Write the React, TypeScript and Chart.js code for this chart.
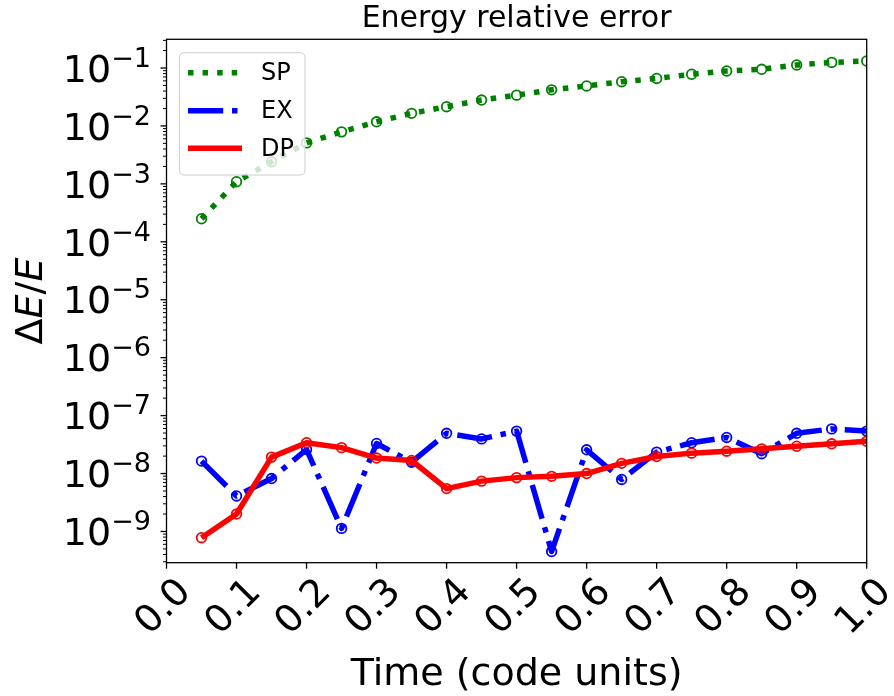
import React, { useEffect, useRef } from "react";
import { Chart, registerables } from "chart.js";

Chart.register(...registerables);

// ---------- data ----------
const times = [0.05, 0.1, 0.15, 0.2, 0.25, 0.3, 0.35, 0.4, 0.45, 0.5, 0.55, 0.6, 0.65, 0.7, 0.75, 0.8, 0.85, 0.9, 0.95, 1.0];
const spValues = [2.5e-4, 1.09e-3, 2.4e-3, 5.1e-3, 7.9e-3, 1.18e-2, 1.65e-2, 2.15e-2, 2.8e-2, 3.4e-2, 4.2e-2, 4.9e-2, 5.8e-2, 6.6e-2, 7.8e-2, 8.9e-2, 9.5e-2, 0.113, 0.125, 0.132];
const exValues = [1.64e-8, 4.1e-9, 8.2e-9, 2.6e-8, 1.13e-9, 3.3e-8, 1.57e-8, 4.95e-8, 3.96e-8, 5.4e-8, 4.5e-10, 2.57e-8, 7.9e-9, 2.34e-8, 3.4e-8, 4.2e-8, 2.2e-8, 4.95e-8, 5.9e-8, 5.4e-8];
const dpValues = [7.8e-10, 2.0e-9, 1.92e-8, 3.4e-8, 2.8e-8, 1.85e-8, 1.68e-8, 5.5e-9, 7.4e-9, 8.5e-9, 8.95e-9, 1.0e-8, 1.5e-8, 1.97e-8, 2.25e-8, 2.43e-8, 2.67e-8, 2.96e-8, 3.26e-8, 3.6e-8];

const seriesNames = ["SP", "EX", "DP"];
const xTickValues = [0, 0.1, 0.2, 0.3, 0.4, 0.5, 0.6, 0.7, 0.8, 0.9, 1.0];
const xTickLabels = ["0.0", "0.1", "0.2", "0.3", "0.4", "0.5", "0.6", "0.7", "0.8", "0.9", "1.0"];
const yTickExponents = [-9, -8, -7, -6, -5, -4, -3, -2, -1];
const titleText = "Energy relative error";
const xAxisTitle = "Time (code units)";

const X_MIN = 0;
const X_MAX = 1;
const Y_MIN = 2.89e-10;
const Y_MAX = 0.313;

// ---------- styles ----------
const GREEN = "#008000";
const BLUE = "#0000ff";
const RED = "#ff0000";
const LW = 5.5;
const DOTTED = [LW, LW * 1.65];
const DASHDOT = [LW * 6.4, LW * 1.6, LW, LW * 1.6];
const FONT = "'DejaVu Sans', Verdana, sans-serif";

const toPoints = (vals: number[]) => vals.map((v, i) => ({ x: times[i], y: v }));

const decorations = {
  id: "decorations",
  afterDatasetsDraw(chart: any) {
    const { ctx, chartArea: a, scales } = chart;
    const xs = scales.x;
    const ys = scales.y;
    ctx.save();

    // spines
    ctx.strokeStyle = "#000";
    ctx.lineWidth = 1.3;
    ctx.setLineDash([]);
    ctx.strokeRect(a.left, a.top, a.right - a.left, a.bottom - a.top);

    // x ticks + labels
    ctx.fillStyle = "#000";
    xTickValues.forEach((v, i) => {
      const px = xs.getPixelForValue(v);
      ctx.beginPath();
      ctx.moveTo(px, a.bottom);
      ctx.lineTo(px, a.bottom + 6);
      ctx.stroke();
      ctx.save();
      ctx.translate(px - 2.5, a.bottom + 45);
      ctx.rotate(-Math.PI / 4);
      ctx.font = `38px ${FONT}`;
      ctx.textAlign = "center";
      ctx.textBaseline = "middle";
      ctx.fillText(xTickLabels[i], 0, 0);
      ctx.restore();
    });

    // y ticks (major + minor)
    const lo = Math.floor(Math.log10(Y_MIN));
    const hi = Math.ceil(Math.log10(Y_MAX));
    for (let e = lo; e <= hi; e++) {
      for (let k = 1; k <= 9; k++) {
        const v = k * Math.pow(10, e);
        if (v < Y_MIN || v > Y_MAX) continue;
        const py = ys.getPixelForValue(v);
        const len = k === 1 ? 6 : 3.5;
        ctx.lineWidth = k === 1 ? 1.3 : 1;
        ctx.beginPath();
        ctx.moveTo(a.left - len, py);
        ctx.lineTo(a.left, py);
        ctx.stroke();
      }
    }

    // y tick labels 10^n
    yTickExponents.forEach((e) => {
      const py = ys.getPixelForValue(Math.pow(10, e));
      const sup = "\u2212" + String(Math.abs(e));
      ctx.font = `27px ${FONT}`;
      ctx.textAlign = "right";
      ctx.textBaseline = "alphabetic";
      const supW = ctx.measureText(sup).width;
      const rightX = 151;
      ctx.fillText(sup, rightX, py + 13.7 - 15);
      ctx.font = `38px ${FONT}`;
      ctx.fillText("10", rightX - supW, py + 13.7);
    });

    // y axis label: ΔE/E
    ctx.save();
    ctx.translate(41.7, (a.top + a.bottom) / 2);
    ctx.rotate(-Math.PI / 2);
    ctx.textBaseline = "alphabetic";
    ctx.textAlign = "left";
    const parts = [
      { t: "\u0394", italic: false },
      { t: "E", italic: true },
      { t: "/", italic: false },
      { t: "E", italic: true },
    ];
    let total = 0;
    parts.forEach((p) => {
      ctx.font = `${p.italic ? "italic " : ""}38px ${FONT}`;
      total += ctx.measureText(p.t).width;
    });
    let cx = -total / 2;
    parts.forEach((p) => {
      ctx.font = `${p.italic ? "italic " : ""}38px ${FONT}`;
      ctx.fillText(p.t, cx, 0);
      cx += ctx.measureText(p.t).width;
    });
    ctx.restore();

    // x axis title
    ctx.font = `38px ${FONT}`;
    ctx.textAlign = "center";
    ctx.textBaseline = "alphabetic";
    ctx.fillText(xAxisTitle, (a.left + a.right) / 2, 685);

    // title
    ctx.font = `30px ${FONT}`;
    ctx.fillText(titleText, (a.left + a.right) / 2, 27);

    // legend
    const lx = 179.5, ly = 52.7, lw = 125.5, lh = 122.3, r = 5;
    ctx.beginPath();
    ctx.moveTo(lx + r, ly);
    ctx.lineTo(lx + lw - r, ly);
    ctx.quadraticCurveTo(lx + lw, ly, lx + lw, ly + r);
    ctx.lineTo(lx + lw, ly + lh - r);
    ctx.quadraticCurveTo(lx + lw, ly + lh, lx + lw - r, ly + lh);
    ctx.lineTo(lx + r, ly + lh);
    ctx.quadraticCurveTo(lx, ly + lh, lx, ly + lh - r);
    ctx.lineTo(lx, ly + r);
    ctx.quadraticCurveTo(lx, ly, lx + r, ly);
    ctx.closePath();
    ctx.fillStyle = "rgba(255,255,255,0.8)";
    ctx.fill();
    ctx.strokeStyle = "#cccccc";
    ctx.lineWidth = 1;
    ctx.stroke();

    const entries = [
      { color: GREEN, dash: DOTTED },
      { color: BLUE, dash: DASHDOT },
      { color: RED, dash: [] as number[] },
    ];
    const rowsY = [72.7, 110.7, 148.3];
    entries.forEach((en, i) => {
      ctx.strokeStyle = en.color;
      ctx.lineWidth = LW;
      ctx.lineCap = "butt";
      ctx.setLineDash(en.dash);
      ctx.beginPath();
      ctx.moveTo(188, rowsY[i]);
      ctx.lineTo(242, rowsY[i]);
      ctx.stroke();
      ctx.setLineDash([]);
      ctx.fillStyle = "#000";
      ctx.font = `24px ${FONT}`;
      ctx.textAlign = "left";
      ctx.textBaseline = "middle";
      ctx.fillText(seriesNames[i], 261, rowsY[i] + 1);
    });

    ctx.restore();
  },
};

export default function App() {
  const canvasRef = useRef<HTMLCanvasElement | null>(null);

  useEffect(() => {
    if (!canvasRef.current) return;
    const common = {
      showLine: true,
      pointRadius: 4.8,
      pointBorderWidth: 1.8,
      pointBackgroundColor: "rgba(0,0,0,0)",
      borderWidth: LW,
      borderCapStyle: "butt" as const,
      borderJoinStyle: "round" as const,
      tension: 0,
      fill: false,
      clip: 0,
    };
    const chart = new Chart(canvasRef.current, {
      type: "line",
      data: {
        datasets: [
          {
            ...common,
            label: seriesNames[0],
            data: toPoints(spValues),
            borderColor: GREEN,
            pointBorderColor: GREEN,
            borderDash: DOTTED,
            order: 2,
          },
          {
            ...common,
            label: seriesNames[1],
            data: toPoints(exValues),
            borderColor: BLUE,
            pointBorderColor: BLUE,
            borderDash: DASHDOT,
            order: 1,
          },
          {
            ...common,
            label: seriesNames[2],
            data: toPoints(dpValues),
            borderColor: RED,
            pointBorderColor: RED,
            order: 0,
          },
        ],
      },
      options: {
        animation: false,
        responsive: false,
        devicePixelRatio: 1,
        layout: { padding: { left: 166.5, top: 39.3, right: 27.3, bottom: 133.3 } },
        plugins: {
          legend: { display: false },
          title: { display: false },
          tooltip: { enabled: false },
        },
        events: [],
        scales: {
          x: {
            type: "linear",
            display: false,
            min: X_MIN,
            max: X_MAX,
            bounds: "data",
          },
          y: {
            type: "logarithmic",
            display: false,
            min: Y_MIN,
            max: Y_MAX,
            bounds: "data",
          },
        },
      },
      plugins: [decorations],
    } as any);
    return () => chart.destroy();
  }, []);

  return (
    <div style={{ position: "fixed", left: 0, top: 0, width: 894, height: 696, background: "#fff" }}>
      <canvas ref={canvasRef} width={894} height={696} style={{ display: "block" }} />
    </div>
  );
}
